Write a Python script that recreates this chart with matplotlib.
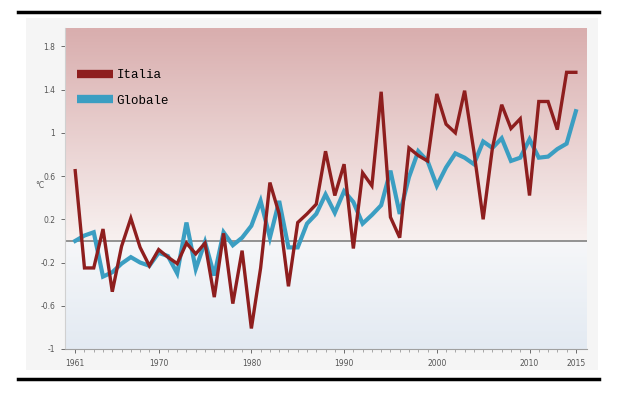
# Italia vs Globale temperature anomaly chart, 1961-2015
import numpy as np
import matplotlib
matplotlib.use('Agg')
import matplotlib.pyplot as plt
from matplotlib.lines import Line2D
from matplotlib.patches import Rectangle
from matplotlib.colors import LinearSegmentedColormap

# data (anomalies in degrees C)
years = list(range(1961, 2016))
italia = [0.65, -0.25, -0.25, 0.11, -0.47, -0.05, 0.21, -0.06, -0.23, -0.08,
          -0.15, -0.21, -0.02, -0.12, -0.02, -0.52, 0.07, -0.58, -0.09, -0.81,
          -0.25, 0.54, 0.25, -0.42, 0.17, 0.25, 0.34, 0.83, 0.42, 0.71,
          -0.07, 0.63, 0.51, 1.38, 0.22, 0.03, 0.86, 0.79, 0.74, 1.36,
          1.08, 1.00, 1.39, 0.83, 0.20, 0.86, 1.26, 1.04, 1.13, 0.42,
          1.29, 1.29, 1.03, 1.56, 1.56]
globale = [0.00, 0.05, 0.08, -0.33, -0.29, -0.21, -0.15, -0.20, -0.23, -0.11,
           -0.14, -0.30, 0.17, -0.26, -0.01, -0.32, 0.08, -0.04, 0.03, 0.14,
           0.37, 0.03, 0.37, -0.06, -0.06, 0.16, 0.25, 0.43, 0.26, 0.46,
           0.36, 0.16, 0.24, 0.33, 0.65, 0.25, 0.59, 0.83, 0.74, 0.51,
           0.68, 0.81, 0.77, 0.71, 0.92, 0.86, 0.95, 0.74, 0.77, 0.94,
           0.77, 0.78, 0.85, 0.90, 1.20]
xtick_years = [1961, 1970, 1980, 1990, 2000, 2010, 2015]
ytick_vals = [-1, -0.6, -0.2, 0.2, 0.6, 1, 1.4, 1.8]
ytick_labels = ['-1', '-0.6', '-0.2', '0.2', '0.6', '1', '1.4', '1.8']

red = '#8e1e1e'
blue = '#3b9ec2'
x0, x1 = 1959.9, 2016.2
y0, y1 = -1.0, 1.97

fig = plt.figure(figsize=(6.2, 3.96), dpi=100)
fig.patch.set_facecolor('white')

# light panel behind the chart and the two black rules
fig.add_artist(Rectangle((26/620, 1-370/396), (598-26)/620, (370-18)/396,
                         transform=fig.transFigure, facecolor='#f5f5f5',
                         edgecolor='none', zorder=0))
for yy in [12, 379]:
    fig.add_artist(Line2D([18/620, 599/620], [1-yy/396, 1-yy/396],
                          transform=fig.transFigure, color='black', lw=2.5))

ax = fig.add_axes([65/620, 1-349/396, (587-65)/620, (349-28)/396])

# vertical gradient background: pink on top, white at zero, pale blue below
cmap = LinearSegmentedColormap.from_list('bg', [
    (0.0, '#e3eaf2'),
    ((0 - y0)/(y1 - y0) - 0.001, '#f6f7f9'),
    ((0 - y0)/(y1 - y0), '#f8f1f0'),
    (1.0, '#d9aeae')])
grad = np.linspace(0, 1, 300).reshape(-1, 1)
ax.imshow(grad, extent=[x0, x1, y0, y1], origin='lower', aspect='auto',
          cmap=cmap, zorder=0)

ax.axhline(0, color='#8a8a8a', lw=1.3, zorder=1)
ax.plot(years, globale, color=blue, lw=3.0, zorder=2, solid_joinstyle='miter')
ax.plot(years, italia, color=red, lw=2.4, zorder=3, solid_joinstyle='miter')

ax.set_xlim(x0, x1)
ax.set_ylim(y0, y1)
ax.set_xticks(xtick_years)
ax.set_xticks(years, minor=True)
ax.set_yticks(ytick_vals)
ax.set_yticklabels(ytick_labels)
ax.tick_params(axis='both', labelsize=5.5, colors='#555555', length=3,
               width=0.6, pad=4)
ax.tick_params(axis='x', which='minor', length=2, width=0.5, colors='#888888')
for s in ['top', 'right']:
    ax.spines[s].set_visible(False)
ax.spines['left'].set_color('#d0d0d0')
ax.spines['bottom'].set_color('#a0a0a0')

fig.text(35/620, 1-186/396, '°C', fontsize=5.5, color='#555555',
         ha='left', va='center')

handles = [Line2D([], [], color=red, lw=6, solid_capstyle='butt'),
           Line2D([], [], color=blue, lw=6, solid_capstyle='butt')]
ax.legend(handles, ['Italia', 'Globale'], loc='upper left',
          bbox_to_anchor=(0.023, 0.871), frameon=False, borderpad=0,
          borderaxespad=0, handlelength=2.9, handletextpad=0.25,
          labelspacing=1.05,
          prop={'family': 'Liberation Mono', 'size': 9})

plt.savefig('out.png', dpi=100)
